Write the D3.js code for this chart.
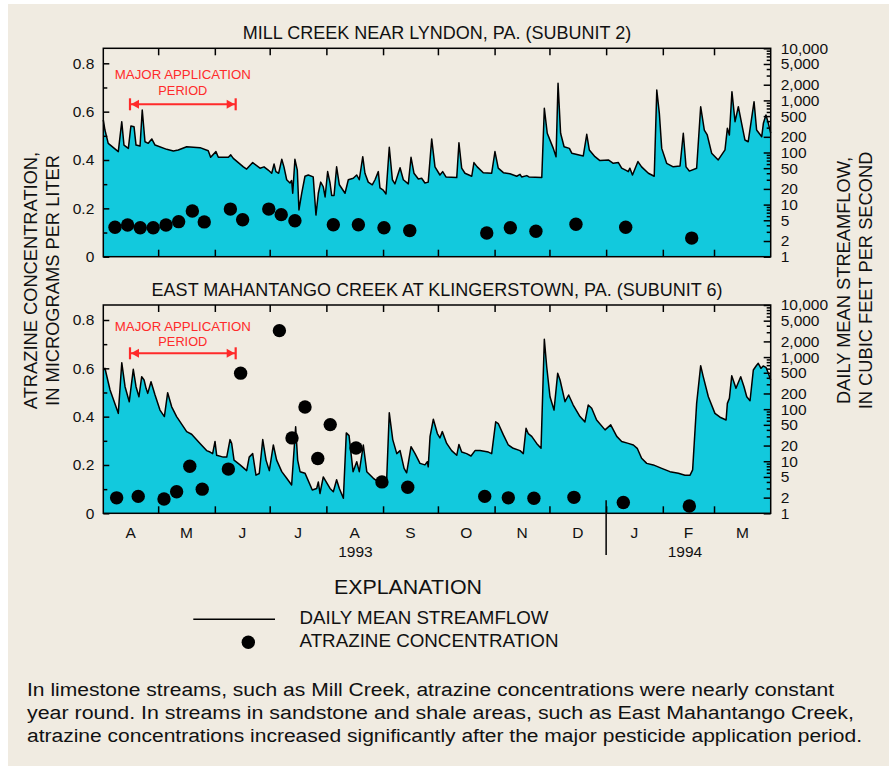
<!DOCTYPE html>
<html><head><meta charset="utf-8">
<script src="https://cdn.jsdelivr.net/npm/d3@7"></script>
<style>
body{margin:0;background:#ffffff;}
svg{display:block;font-family:"Liberation Sans",Arial,Helvetica,sans-serif;}
</style>
</head><body>
<svg id="chart" width="889" height="767"></svg>
<script>
// ---------------- DATA ----------------
// x values are days after 1 April 1993
const monthLabels = ["A","M","J","J","A","S","O","N","D","J","F","M"];
const yearLabels = ["1993","1994"];
const concTicks = [0,0.2,0.4,0.6,0.8];
const concMinorTicks = [0.1,0.3,0.5,0.7];
const flowTicks = [1,2,5,10,20,50,100,200,500,1000,2000,5000,10000];
const panelTitles = ["MILL CREEK NEAR LYNDON, PA. (SUBUNIT 2)","EAST MAHANTANGO CREEK AT KLINGERSTOWN, PA. (SUBUNIT 6)"];
const applicationPeriod = [14.6, 72.4];

// Mill Creek daily mean streamflow, [day, cubic feet per second]
const millFlow = [[0,421],[0.9,270],[2.7,150],[8.2,104],[10.1,390],[11.3,139],[13.7,120],[15.1,323],[16.8,313],[17.9,139],[20.1,133],[21.3,654],[22.8,161],[24.6,150],[26.5,182],[28.3,139],[34.7,115],[38.3,107],[41,112],[45.6,129],[52.9,124],[57.4,108],[58.7,81],[61.6,104],[62.9,81],[68.4,81],[69.7,90],[71.1,77],[76.6,53],[78.4,48],[81.7,64],[85.7,50],[87.9,53],[90.2,46],[92.1,40],[93.4,60],[94.4,43],[95.9,40],[97.6,74],[98.8,53],[100.3,30],[102.1,26],[103.0,29],[103.6,16.5],[104.8,74],[106.1,46],[107.0,7.9],[108.5,16.5],[110.3,35],[112.1,37],[114.8,34],[116.3,6.3],[117.6,16.5],[118.9,27],[120.3,22],[121.3,14],[122.7,43],[124.0,26],[124.9,15],[126.2,15],[127.6,53],[129.1,24],[132.2,16.5],[134.0,30],[136.7,32],[138.6,37],[140.0,30],[141.9,83],[143.1,40],[144.9,27],[147.1,24],[148.6,30],[150.4,43],[151.3,21],[153.1,19],[154.6,16],[156.4,126],[158.1,30],[159.5,25],[162.3,51],[164.1,30],[166.8,25],[168.3,81],[169.9,40],[172.3,31],[174.1,32],[175.9,26],[177.7,27],[179.6,182],[181.4,53],[184.1,37],[185.6,43],[187.4,34],[193.3,33],[194.5,154],[196.0,50],[197.8,40],[201.5,35],[202.7,64],[204.5,53],[207.8,41],[212.4,40],[214.2,104],[216.0,50],[218.8,41],[222.4,39],[226.1,35],[227.9,38],[228.8,34],[231.6,36],[232.8,34],[239.8,33],[241.2,705],[242.8,234],[246.1,120],[247.6,83],[248.7,2130],[250.1,234],[252.0,129],[254.9,120],[256.2,97],[262.5,86],[264.4,223],[265.8,112],[268.9,83],[271.6,70],[276.2,72],[278.9,62],[281.7,64],[283.5,50],[286.2,45],[287.1,43],[288.0,50],[289.4,37],[292.4,67],[294.4,53],[298.1,40],[301.3,35],[302.7,1585],[304.1,565],[305.4,120],[308.1,62],[311.7,53],[315.4,55],[317.2,234],[318.7,53],[320.5,44],[324.5,50],[326.7,757],[328.7,270],[330.3,217],[332.7,97],[336.3,72],[340.0,112],[341.3,291],[342.4,217],[343.8,1469],[345.5,390],[347.3,757],[349.1,363],[350.9,174],[352.7,161],[355.9,944],[357.3,270],[360.1,201],[361.0,363],[362.4,525],[363.7,363],[365,234]];

// Mill Creek atrazine, [day, micrograms per liter]
const millConc = [[6.4,0.122],[13.3,0.131],[20.2,0.120],[27.3,0.120],[34.3,0.131],[41.2,0.145],[48.7,0.189],[55.2,0.144],[69.5,0.197],[76.2,0.153],[90.5,0.197],[97.3,0.174],[104.8,0.149],[125.8,0.132],[139.5,0.132],[153.5,0.120],[167.6,0.108],[209.7,0.098],[222.6,0.120],[236.6,0.105],[258.5,0.134],[285.7,0.122],[321.8,0.077]];

// East Mahantango Creek daily mean streamflow, [day, cubic feet per second]
const mahFlow = [[0,565],[0.9,609],[3.7,233],[8.2,83],[10.1,780],[11.9,270],[14.2,139],[16.4,582],[17.9,270],[19.5,173],[21.0,420],[22.3,363],[23.4,251],[24.3,201],[26.1,337],[28.3,187],[31.0,96],[33.4,72],[35.2,207],[37.4,111],[40.1,72],[45.6,37],[48.3,33],[52.9,22],[56.5,16],[58.4,15],[59.8,14],[61.1,24],[62.0,13],[65.6,12],[67.5,12],[69.3,26],[70.2,22],[71.5,10.5],[74.8,8.5],[78.4,6.6],[79.8,12],[81.7,14],[83.5,5.4],[85.3,5.8],[87.2,26],[89.0,10.5],[90.8,6.6],[93.0,20.5],[94.8,10.5],[97.6,6.3],[100.3,4.7],[103.0,3.5],[105.2,46],[106.3,10.5],[107.6,6.3],[110.3,5.9],[114.3,2.8],[116.7,3.0],[117.6,4.0],[118.5,2.4],[120.3,5.0],[124.0,3.0],[125.8,2.6],[127.6,4.4],[129.1,3.0],[131.3,1.94],[132.9,35],[134.4,31],[136.6,6.3],[138.6,9.8],[140.0,6.3],[142.2,20.5],[144.1,6.3],[147.7,4.7],[150.4,4.0],[155.0,4.7],[156.4,85],[158.3,26],[160.5,14],[162.3,16],[164.5,7.3],[165.9,6.0],[168.3,19],[170.5,14],[173.2,9.1],[175.9,8.5],[177.2,9.8],[177.7,7.8],[178.7,30],[180.5,64],[182.7,34],[184.1,28],[185.4,37],[187.8,22],[190.5,16],[193.3,13],[194.5,21],[196.0,15],[198.7,14],[201.1,12.6],[203.3,16],[206.0,16],[210.6,15],[212.4,14],[214.6,57],[216.0,53],[218.8,32],[221.5,20.5],[224.2,17.7],[227.9,16],[229.7,14],[231.2,43],[232.4,34],[234.3,30],[237.0,22],[239.4,17.7],[241.2,2195],[242.5,653],[244.3,173],[246.5,96],[248.5,488],[249.8,363],[252.5,139],[254.5,187],[257.0,120],[260.7,72],[263.4,57],[265.2,120],[267.1,104],[269.8,62],[274.4,40],[277.5,50],[280.8,30],[283.5,24],[287.1,22],[289.9,20.5],[292.0,17.7],[294.4,11.4],[297.2,9.1],[300.8,8.5],[305.4,7.3],[309.9,6.3],[314.5,5.9],[318.1,5.4],[320.9,5.4],[322.3,6.8],[324.5,129],[326.7,683],[328.1,420],[330.9,173],[334.5,83],[337.3,70],[340.6,62],[341.3,129],[342.4,161],[343.7,440],[346.0,251],[348.6,420],[350.4,270],[351.9,173],[353.7,145],[355.5,565],[357.0,674],[358.2,759],[359.7,609],[360.9,674],[362.4,636],[363.7,488],[365,363]];

// East Mahantango Creek atrazine, [day, micrograms per liter]
const mahConc = [[7.3,0.064],[19.1,0.070],[33.2,0.059],[40.1,0.089],[47.3,0.195],[54.1,0.100],[68.4,0.183],[75.1,0.580],[96.3,0.756],[103.2,0.312],[110.3,0.440],[117.3,0.227],[124.1,0.367],[138.2,0.270],[152.4,0.130],[166.5,0.108],[208.6,0.070],[221.5,0.064],[235.5,0.062],[257.4,0.066],[284.4,0.045],[320.5,0.030]];

const legendItems = ["DAILY MEAN STREAMFLOW","ATRAZINE CONCENTRATION"];
const captionLines = [
  "In limestone streams, such as Mill Creek, atrazine concentrations were nearly constant",
  "year round. In streams in sandstone and shale areas, such as East Mahantango Creek,",
  "atrazine concentrations increased significantly after the major pesticide application period."
];

// ---------------- DRAWING ----------------
const BG = "#f0ebe1", CYAN = "#12c9dd", RED = "#ff2a2a";
const svg = d3.select("#chart");
svg.append("rect").attr("x",8).attr("y",4).attr("width",881).attr("height",762).attr("fill",BG);

const start = new Date(1993,3,1), end = new Date(1994,3,1);
const toDate = d => new Date(start.getTime() + d*86400000);
const x = d3.scaleTime().domain([start,end]).range([103.3,770.7]);
const monthStarts = d3.timeMonth.range(start, end);
const innerBoundaries = monthStarts.slice(1);

const panels = [
  {top:48.3, bottom:256.7, title:panelTitles[0], titleY:39, flow:millFlow, conc:millConc, red1:79, red2:94.5, arrowY:104.3},
  {top:305, bottom:513.3, title:panelTitles[1], titleY:296, flow:mahFlow, conc:mahConc, red1:330.5, red2:346, arrowY:353.3}
];

panels.forEach((p,i) => {
  const g = svg.append("g");
  const yC = d3.scaleLinear().domain([0,0.8]).range([p.bottom, p.top+15]);
  const yF = d3.scaleLog().domain([1,10000]).range([p.bottom, p.top]);

  // streamflow area + line
  const area = d3.area().x(d=>x(toDate(d[0]))).y0(p.bottom).y1(d=>yF(d[1]));
  const line = d3.line().x(d=>x(toDate(d[0]))).y(d=>yF(d[1]));
  g.append("path").datum(p.flow).attr("d",area).attr("fill",CYAN);
  g.append("path").datum(p.flow).attr("d",line).attr("fill","none").attr("stroke","#000").attr("stroke-width",1.5).attr("stroke-linejoin","round");

  // atrazine points
  g.selectAll("circle.c").data(p.conc).join("circle")
    .attr("cx",d=>x(toDate(d[0]))).attr("cy",d=>yC(d[1])).attr("r",6.7).attr("fill","#000");

  // left axis
  const la = g.append("g").attr("transform",`translate(${x.range()[0]},0)`)
    .call(d3.axisLeft(yC).tickValues(concTicks).tickSize(-6).tickPadding(9).tickFormat(d=>d===0?"0":d3.format(".1f")(d)));
  const lm = g.append("g").attr("transform",`translate(${x.range()[0]},0)`)
    .call(d3.axisLeft(yC).tickValues(concMinorTicks).tickSize(-4).tickFormat(""));
  // right axis
  const minorFlow = [];
  [1,10,100,1000].forEach(dec => [3,4,6,7,8,9].forEach(m => minorFlow.push(dec*m)));
  const ra = g.append("g").attr("transform",`translate(${x.range()[1]},0)`)
    .call(d3.axisRight(yF).tickValues(flowTicks).tickSize(-7).tickPadding(10).tickFormat(d3.format(",")));
  const rm = g.append("g").attr("transform",`translate(${x.range()[1]},0)`)
    .call(d3.axisRight(yF).tickValues(minorFlow).tickSize(-4).tickFormat(""));
  // top/bottom month ticks
  const ta = g.append("g").attr("transform",`translate(0,${p.top})`)
    .call(d3.axisTop(x).tickValues(innerBoundaries).tickSize(-7).tickFormat(""));
  const ba = g.append("g").attr("transform",`translate(0,${p.bottom})`)
    .call(d3.axisBottom(x).tickValues(innerBoundaries).tickSize(-7).tickFormat(""));
  [la,lm,ra,rm,ta,ba].forEach(a => {
    a.select(".domain").remove();
    a.selectAll("line").attr("stroke","#000").attr("stroke-width",1.5);
    a.selectAll("text").attr("font-size","15.5px").attr("fill","#111").attr("font-family",null);
  });

  // frame
  g.append("rect").attr("x",x.range()[0]).attr("y",p.top)
    .attr("width",x.range()[1]-x.range()[0]).attr("height",p.bottom-p.top)
    .attr("fill","none").attr("stroke","#000").attr("stroke-width",1.5);

  // title
  g.append("text").attr("x",437).attr("y",p.titleY).attr("text-anchor","middle")
    .attr("font-size","18px").attr("fill","#111").text(p.title);

  // major application period annotation
  const ax0 = x(toDate(applicationPeriod[0])), ax1 = x(toDate(applicationPeriod[1]));
  const cx = (ax0+ax1)/2;
  g.append("text").attr("x",cx).attr("y",p.red1).attr("text-anchor","middle")
    .attr("font-size","13.5px").attr("fill",RED).attr("textLength",136).attr("lengthAdjust","spacingAndGlyphs")
    .text("MAJOR APPLICATION");
  g.append("text").attr("x",cx).attr("y",p.red2).attr("text-anchor","middle")
    .attr("font-size","13.5px").attr("fill",RED).attr("textLength",49).attr("lengthAdjust","spacingAndGlyphs")
    .text("PERIOD");
  const ay = p.arrowY;
  g.append("line").attr("x1",ax0).attr("x2",ax1).attr("y1",ay).attr("y2",ay).attr("stroke",RED).attr("stroke-width",2);
  [ax0,ax1].forEach((bx,k) => {
    g.append("line").attr("x1",bx).attr("x2",bx).attr("y1",ay-6).attr("y2",ay+6).attr("stroke",RED).attr("stroke-width",2.2);
    const dir = k===0 ? 1 : -1;
    g.append("path").attr("d",`M${bx+dir*1},${ay} L${bx+dir*9},${ay-4.5} L${bx+dir*9},${ay+4.5} Z`).attr("fill",RED);
  });
});

// month labels under lower panel
const lowBottom = panels[1].bottom;
svg.append("g").selectAll("text").data(monthStarts).join("text")
  .attr("x",(m,i)=> (x(m) + x(i+1<monthStarts.length?monthStarts[i+1]:end))/2)
  .attr("y",537.5).attr("text-anchor","middle").attr("font-size","15.5px").attr("fill","#111")
  .text((m,i)=>monthLabels[i]);
// year labels
const jan = new Date(1994,0,1);
svg.append("text").attr("x",355.5).attr("y",557).attr("text-anchor","middle").attr("font-size","15.5px").attr("fill","#111").text(yearLabels[0]);
svg.append("text").attr("x",685).attr("y",557).attr("text-anchor","middle").attr("font-size","15.5px").attr("fill","#111").text(yearLabels[1]);
svg.append("line").attr("x1",x(jan)).attr("x2",x(jan)).attr("y1",lowBottom-13).attr("y2",555)
  .attr("stroke","#000").attr("stroke-width",1.5);

// axis titles
const midY = 280.5;
[["ATRAZINE CONCENTRATION,",37.3],["IN MICROGRAMS PER LITER",59],["DAILY MEAN STREAMFLOW,",850],["IN CUBIC FEET PER SECOND",871.7]]
  .forEach(([t,bx]) => {
    svg.append("text").attr("transform",`translate(${bx},${midY}) rotate(-90)`).attr("text-anchor","middle")
      .attr("font-size","18.3px").attr("fill","#111").text(t);
  });

// explanation / legend
svg.append("text").attr("x",408).attr("y",594.3).attr("text-anchor","middle").attr("font-size","20.5px")
  .attr("textLength",148).attr("lengthAdjust","spacingAndGlyphs").attr("fill","#111").text("EXPLANATION");
svg.append("line").attr("x1",193.3).attr("x2",275).attr("y1",619.3).attr("y2",619.3).attr("stroke","#000").attr("stroke-width",1.5);
svg.append("circle").attr("cx",248.3).attr("cy",642.3).attr("r",6.7).attr("fill","#000");
const legendWidths = [249, 259];
svg.append("g").selectAll("text").data(legendItems).join("text")
  .attr("x",299.5).attr("y",(d,i)=>624.3+i*22.7).attr("font-size","18px")
  .attr("textLength",(d,i)=>legendWidths[i]).attr("lengthAdjust","spacingAndGlyphs")
  .attr("fill","#111").text(d=>d);

// caption
const captionWidths = [807, 827, 835];
svg.append("g").selectAll("text").data(captionLines).join("text")
  .attr("x",27).attr("y",(d,i)=>696+i*23).attr("font-size","18px")
  .attr("textLength",(d,i)=>captionWidths[i]).attr("lengthAdjust","spacingAndGlyphs")
  .attr("fill","#111").text(d=>d);
</script>
</body></html>
